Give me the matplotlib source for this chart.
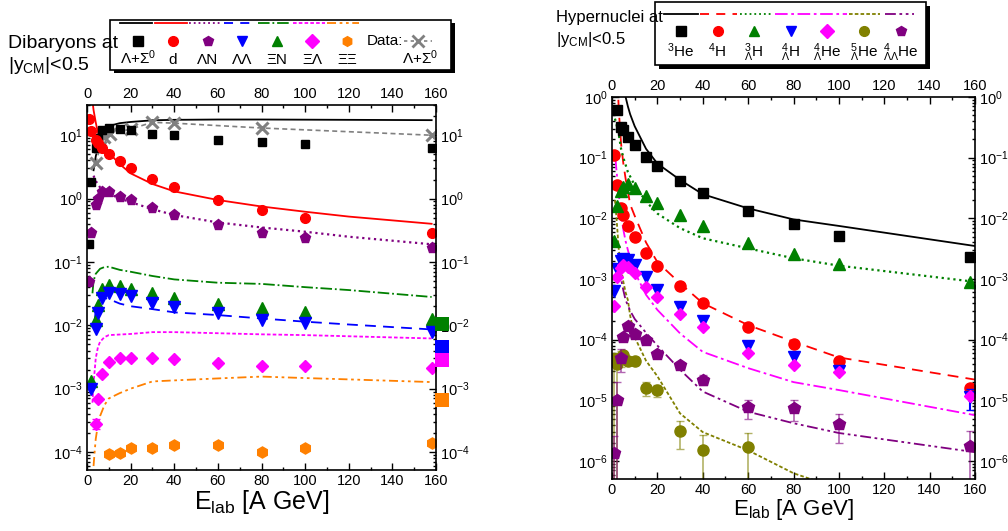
import matplotlib
matplotlib.use('Agg')
import matplotlib.pyplot as plt
import numpy as np
from matplotlib.patches import Rectangle
from matplotlib.lines import Line2D
from matplotlib.ticker import MultipleLocator, LogLocator, NullFormatter

plt.rcParams['font.family'] = ['Liberation Sans', 'DejaVu Sans']
plt.rcParams['mathtext.fontset'] = 'custom'
plt.rcParams['mathtext.rm'] = 'Liberation Sans'
plt.rcParams['mathtext.it'] = 'Liberation Sans:italic'
plt.rcParams['mathtext.bf'] = 'Liberation Sans:bold'
plt.rcParams['axes.unicode_minus'] = False

nan = np.nan

# ---------------- dibaryons (left panel) ----------------
e_dib = [1, 2, 4, 5, 7, 10, 15, 20, 30, 40, 60, 80, 100, 158]
ls_pts = [0.19, 1.8, 6.4, 9.0, 12.0, 13.2, 12.7, 12.0, 10.6, 10.0, 8.5, 7.7, 7.2, 6.4]
d_pts = [18.3, 11.7, 8.3, 7.5, 6.2, 5.0, 3.9, 3.05, 2.07, 1.53, 0.94, 0.66, 0.50, 0.29]
ln_pts = [0.048, 0.29, 0.79, 1.0, 1.25, 1.25, 1.06, 0.94, 0.70, 0.56, 0.38, 0.29, 0.243, 0.163]
xin_pts = [nan, 0.0013, 0.012, 0.021, 0.037, 0.043, 0.041, 0.038, 0.032, 0.027, 0.022, 0.0185, 0.016, 0.0125]
ll_pts = [nan, 0.001, 0.0086, 0.0155, 0.0265, 0.032, 0.031, 0.029, 0.0227, 0.0196, 0.0155, 0.012, 0.0107, 0.0077]
xil_pts = [nan, nan, 2.77e-4, 6.85e-4, 1.7e-3, 2.6e-3, 3.1e-3, 3.1e-3, 3.0e-3, 2.95e-3, 2.5e-3, 2.3e-3, 2.3e-3, 2.1e-3]
xixi_pts = [nan, nan, nan, nan, nan, 9.3e-5, 9.8e-5, 1.14e-4, 1.16e-4, 1.29e-4, 1.31e-4, 1.0e-4, 1.14e-4, 1.4e-4]

# measured Lambda+Sigma0
e_data = [4, 6, 8, 10.7, 20, 30, 40, 80, 158]
ls_data = [3.6, 6.5, 9.5, 10.5, 12.5, 16.0, 15.5, 13.0, 10.0]

# model curves
e_ls_line = [3, 4, 5, 6, 8, 10, 15, 20, 30, 40, 60, 80, 100, 158]
ls_line = [2.8, 4.6, 7.0, 9.0, 12.0, 14.0, 15.5, 16.2, 17.2, 17.5, 17.7, 17.7, 17.6, 17.3]
e_d_line = [2.5, 3, 4, 5, 6, 8, 10, 15, 20, 30, 40, 60, 80, 100, 120, 158]
d_line = [35, 25, 16, 11, 9, 6.5, 5.3, 3.5, 2.5, 1.7, 1.3, 0.95, 0.75, 0.62, 0.52, 0.4]
e_ln_line = [3, 4, 6, 8, 10, 15, 20, 30, 40, 60, 80, 100, 120, 158]
ln_line = [2.3, 1.9, 1.5, 1.3, 1.2, 1.0, 0.88, 0.68, 0.55, 0.42, 0.35, 0.3, 0.25, 0.19]
e_xin_line = [2.5, 3, 4, 6, 8, 10, 15, 20, 30, 40, 60, 80, 100, 120, 158]
xin_line = [0.032, 0.05, 0.065, 0.078, 0.083, 0.084, 0.075, 0.07, 0.06, 0.053, 0.047, 0.045, 0.04, 0.036, 0.028]
e_ll_line = [3.5, 4, 5, 6, 8, 10, 15, 20, 30, 40, 60, 80, 100, 120, 158]
ll_line = [0.012, 0.017, 0.022, 0.025, 0.027, 0.026, 0.022, 0.02, 0.018, 0.016, 0.0145, 0.0128, 0.0114, 0.0103, 0.0086]
e_xil_line = [2.5, 3, 4, 5, 6, 8, 10, 20, 30, 40, 60, 80, 100, 158]
xil_line = [6e-4, 1.2e-3, 3e-3, 4.5e-3, 5.5e-3, 6.5e-3, 7e-3, 7.3e-3, 7.8e-3, 7.8e-3, 7.5e-3, 7.2e-3, 7e-3, 6.2e-3]
e_xixi_line = [3, 3.5, 4, 5, 6, 8, 10, 15, 20, 30, 40, 60, 80, 100, 120, 158]
xixi_line = [6e-5, 1e-4, 1.6e-4, 2.7e-4, 3.7e-4, 5.5e-4, 7e-4, 8.5e-4, 1.0e-3, 1.3e-3, 1.35e-3, 1.45e-3, 1.55e-3, 1.47e-3, 1.4e-3, 1.27e-3]

# values shown as big squares right of the frame
thermal_e = 162.7
thermal_vals = [0.0104, 4.6e-3, 2.8e-3, 6.6e-4]
thermal_cols = ['green', 'blue', 'magenta', '#ff8000']

# ---------------- hypernuclei (right panel) ----------------
e_hyp = [1, 2, 4, 5, 7, 10, 15, 20, 30, 40, 60, 80, 100, 158]
he3_pts = [nan, 0.61, 0.32, 0.29, 0.216, 0.16, 0.104, 0.073, 0.042, 0.026, 0.013, 0.008, 0.0051, 0.0023]
h4_pts = [0.11, 0.035, 0.0146, 0.0114, 0.0076, 0.005, 0.0027, 0.00166, 7.7e-4, 4.1e-4, 1.64e-4, 8.5e-5, 4.5e-5, 1.58e-5]
h3l_pts = [0.0043, 0.016, 0.028, 0.033, 0.037, 0.032, 0.023, 0.018, 0.0114, 0.0076, 0.0039, 0.0026, 0.0018, 8.8e-4]
h4l_pts = [6.4e-4, 1.44e-3, 2.0e-3, 2.1e-3, 2.05e-3, 1.7e-3, 1.07e-3, 6.7e-4, 3.4e-4, 2.05e-4, 7.9e-5, 5.1e-5, 3.1e-5, 1.15e-5]
he4l_pts = [3.6e-4, 1.1e-3, 1.5e-3, 1.7e-3, 1.6e-3, 1.26e-3, 7.4e-4, 5.1e-4, 2.7e-4, 1.63e-4, 6.1e-5, 3.8e-5, 2.95e-5, 1.2e-5]
he5l_pts = [4.8e-5, 4.0e-5, 5.0e-5, 5.6e-5, 4.4e-5, 4.5e-5, 1.6e-5, 1.48e-5, 3.1e-6, 1.55e-6, 1.7e-6, nan, nan, nan]
he5l_lo = [1e-9, 1e-9, 3.5e-5, 4.6e-5, 3.8e-5, 3.9e-5, 1.2e-5, 1.15e-5, 1.6e-6, 1e-9, 1e-9, nan, nan, nan]
he5l_hi = [6e-5, 6e-5, 6.5e-5, 6.6e-5, 5.0e-5, 5.1e-5, 2.0e-5, 1.8e-5, 4.6e-6, 2.7e-6, 2.9e-6, nan, nan, nan]
he4ll_pts = [1.38e-6, 1e-5, 4.9e-5, 1.1e-4, 1.7e-4, 1.26e-4, 1.0e-4, 5.8e-5, 3.9e-5, 2.2e-5, 7.7e-6, 7.4e-6, 4.1e-6, 1.8e-6]
he4ll_lo = [1e-9, 1e-9, 2.9e-5, 1.0e-4, 1.6e-4, 1.18e-4, 9.2e-5, 5.3e-5, 3.5e-5, 1.8e-5, 5e-6, 4.5e-6, 2e-6, 1e-9]
he4ll_hi = [2.6e-6, 2e-5, 7e-5, 1.2e-4, 1.8e-4, 1.34e-4, 1.08e-4, 6.3e-5, 4.3e-5, 2.6e-5, 1e-5, 1e-5, 6e-6, 3.1e-6]

e_he3_line = [6, 7, 8, 10, 15, 20, 30, 40, 60, 80, 100, 160]
he3_line = [1.0, 0.7, 0.52, 0.33, 0.14, 0.08, 0.043, 0.025, 0.0146, 0.0096, 0.0075, 0.0035]
e_h4_line = [2.8, 3, 4, 5, 6, 7, 8, 10, 15, 20, 30, 40, 60, 80, 100, 160]
h4_line = [0.9, 0.6, 0.17, 0.08, 0.045, 0.028, 0.017, 0.011, 0.004, 0.0019, 8.5e-4, 4e-4, 1.74e-4, 9.3e-5, 5.1e-5, 2.2e-5]
e_h3l_line = [1.3, 2, 3, 4, 5, 7, 10, 15, 20, 30, 40, 60, 80, 100, 160]
h3l_line = [0.44, 0.35, 0.24, 0.14, 0.1, 0.058, 0.035, 0.019, 0.012, 0.0069, 0.0047, 0.0032, 0.0022, 0.00166, 9e-4]
e_he4l_line = [1.5, 2, 3, 4, 5, 6, 7, 8, 10, 15, 20, 30, 40, 60, 80, 100, 160]
he4l_line = [0.1, 0.06, 0.025, 0.011, 0.0065, 0.0042, 0.003, 0.0022, 0.0013, 5.5e-4, 3.1e-4, 1.27e-4, 6.3e-5, 3.4e-5, 2e-5, 1.48e-5, 5.7e-6]
e_he5l_line = [1.3, 2, 3, 4, 5, 6, 7, 8, 10, 15, 20, 30, 40, 60, 80, 100]
he5l_line = [0.02, 0.01, 0.003, 0.0015, 9e-4, 6e-4, 4.5e-4, 2.5e-4, 1.1e-4, 4.5e-5, 2.5e-5, 6.1e-6, 3.0e-6, 1.5e-6, 6.3e-7, 3.5e-7]
e_he4ll_line = [3, 4, 5, 6, 8, 10, 15, 20, 30, 40, 60, 80, 100, 160]
he4ll_line = [2e-3, 1e-3, 6.5e-4, 4.5e-4, 3e-4, 2.2e-4, 1.3e-4, 8e-5, 3.2e-5, 1.4e-5, 6.5e-6, 4.2e-6, 2.9e-6, 1.4e-6]

W, H = 1008, 531
fig = plt.figure(figsize=(W / 100, H / 100), dpi=100)
ax1 = fig.add_axes([87 / W, 1 - 470 / H, 349 / W, 365 / H])
ax2 = fig.add_axes([612 / W, 1 - 479 / H, 363 / W, 382 / H])

ms = 7
lw = 1.3
ORANGE = '#ff8000'

# left panel
ax1.plot(e_ls_line, ls_line, '-', color='black', lw=lw)
ax1.plot(e_d_line, d_line, '-', color='red', lw=lw)
ax1.plot(e_ln_line, ln_line, ':', color='purple', lw=1.6)
ax1.plot(e_ll_line, ll_line, '--', color='blue', lw=lw, dashes=(6, 4))
ax1.plot(e_xin_line, xin_line, '-.', color='green', lw=lw)
ax1.plot(e_xil_line, xil_line, ':', color='magenta', lw=lw, dashes=(2, 1.2))
ax1.plot(e_xixi_line, xixi_line, color=ORANGE, lw=lw, dashes=(5, 2, 1.5, 2, 1.5, 2))
ax1.plot(e_data, ls_data, '--', color='gray', lw=1.2, marker='x', ms=9, mew=2.2, dashes=(3, 2))

ax1.plot(e_dib, ls_pts, 's', color='black', ms=ms - 1)
ax1.plot(e_dib, d_pts, 'o', color='red', ms=ms)
ax1.plot(e_dib, ln_pts, 'p', color='purple', ms=ms + 1)
ax1.plot(e_dib, xin_pts, '^', color='green', ms=ms + 1)
ax1.plot(e_dib, ll_pts, 'v', color='blue', ms=ms + 1)
ax1.plot(e_dib, xil_pts, 'D', color='magenta', ms=ms - 1)
ax1.errorbar([4], [2.77e-4], yerr=[[0.5e-4], [0.5e-4]], fmt='none', ecolor='magenta', capsize=3)
ax1.plot(e_dib, xixi_pts, 'h', color=ORANGE, ms=ms + 1)
ax1.scatter([thermal_e] * len(thermal_vals), thermal_vals, marker='s', s=105,
            c=thermal_cols, clip_on=False, zorder=5, linewidths=0)

ax1.set_yscale('log')
ax1.set_xlim(0, 160)
ax1.set_ylim(5.2e-5, 30)

# right panel
ax2.plot(e_he3_line, he3_line, '-', color='black', lw=lw)
ax2.plot(e_h4_line, h4_line, '--', color='red', lw=lw, dashes=(6, 4))
ax2.plot(e_h3l_line, h3l_line, ':', color='green', lw=1.6)
ax2.plot(e_he4l_line, he4l_line, '-.', color='magenta', lw=lw, dashes=(7, 2, 1.5, 2))
ax2.plot(e_he5l_line, he5l_line, ':', color='#808000', lw=lw, dashes=(2, 1.2))
ax2.plot(e_he4ll_line, he4ll_line, color='purple', lw=lw, dashes=(6, 2, 1.5, 2, 1.5, 2))

ax2.plot(e_hyp, he3_pts, 's', color='black', ms=ms)
ax2.plot(e_hyp, h4_pts, 'o', color='red', ms=ms + 1)
ax2.plot(e_hyp, h3l_pts, '^', color='green', ms=ms + 1)
ax2.plot(e_hyp, h4l_pts, 'v', color='blue', ms=ms + 1)
ax2.errorbar([158], [1.15e-5], yerr=[[0.45e-5], [0.4e-5]], fmt='none', ecolor='blue', capsize=3)
ax2.plot(e_hyp, he4l_pts, 'D', color='magenta', ms=ms - 1)

y5 = np.array(he5l_pts)
ax2.errorbar(e_hyp, y5, yerr=[y5 - np.array(he5l_lo), np.array(he5l_hi) - y5],
             fmt='none', ecolor='#808000', alpha=0.6, capsize=3, lw=1.2)
ax2.plot(e_hyp, he5l_pts, 'o', color='#808000', ms=ms + 1)
y4 = np.array(he4ll_pts)
ax2.errorbar(e_hyp, y4, yerr=[y4 - np.array(he4ll_lo), np.array(he4ll_hi) - y4],
             fmt='none', ecolor='purple', alpha=0.6, capsize=3, lw=1.2)
ax2.plot(e_hyp, he4ll_pts, 'p', color='purple', ms=ms + 2)

ax2.set_yscale('log')
ax2.set_xlim(0, 160)
ax2.set_ylim(5.06e-7, 1)

for ax in (ax1, ax2):
    ax.xaxis.set_major_locator(MultipleLocator(20))
    ax.xaxis.set_minor_locator(MultipleLocator(10))
    ax.yaxis.set_major_locator(LogLocator(base=10, numticks=20))
    ax.yaxis.set_minor_locator(LogLocator(base=10, subs=np.arange(2, 10), numticks=20))
    ax.yaxis.set_minor_formatter(NullFormatter())
    ax.tick_params(which='both', direction='in', top=True, right=True,
                   labeltop=True, labelright=True, labelsize=10.5, width=1.0, pad=3)
    ax.tick_params(which='major', length=5)
    ax.tick_params(which='minor', length=2.5)
    for sp in ax.spines.values():
        sp.set_linewidth(1.2)
ax1.set_xlabel(r'E$_{\mathrm{lab}}$ [A GeV]', fontsize=18, labelpad=0)
ax2.set_xlabel(r'E$_{\mathrm{lab}}$ [A GeV]', fontsize=16, labelpad=0)

# overlay for the two legend boxes, pixel coordinates
lax = fig.add_axes([0, 0, 1, 1], facecolor='none', zorder=10)
lax.set_xlim(0, W)
lax.set_ylim(H, 0)
lax.axis('off')

# dibaryon legend
lax.add_patch(Rectangle((114, 23), 341, 50, facecolor='black', lw=0))
lax.add_patch(Rectangle((110, 20), 341, 50, facecolor='white', edgecolor='black', lw=1.2))
dib_styles = [('black', '-', None), ('red', '-', None), ('purple', ':', None),
              ('blue', '--', (5, 4)), ('green', '-.', None), ('magenta', ':', (2, 1.2)),
              (ORANGE, '-', (5, 2, 1.5, 2, 1.5, 2))]
dib_marks = ['s', 'o', 'p', 'v', '^', 'D', 'h']
dib_labels = ['Λ+Σ$^0$', 'd', 'ΛN', 'ΛΛ', 'ΞN', 'ΞΛ', 'ΞΞ']
for i, (c, st, da) in enumerate(dib_styles):
    x0 = 120 + i * 34.5
    ln = Line2D([x0, x0 + 32], [23, 23], color=c, ls=st, lw=1.3)
    if da is not None:
        ln.set_dashes(da)
    lax.add_line(ln)
    xc = 138 + i * 34.8
    lax.plot([xc], [41], dib_marks[i], color=c, ms=7)
    lax.text(xc, 64, dib_labels[i], ha='center', va='baseline', fontsize=11)
lax.text(367, 45, 'Data:', fontsize=11, va='baseline')
lax.plot([404, 432], [41, 41], '--', color='gray', lw=1.2, dashes=(2, 2))
lax.plot([418], [41], 'x', color='gray', ms=8, mew=2)
lax.text(420, 64, 'Λ+Σ$^0$', ha='center', va='baseline', fontsize=11)
lax.text(8, 48, 'Dibaryons at', fontsize=14, va='baseline')
lax.text(8, 70, '|y$_{\\mathrm{CM}}$|<0.5', fontsize=14, va='baseline')

# hypernuclei legend
lax.add_patch(Rectangle((659, 6), 271, 63, facecolor='black', lw=0))
lax.add_patch(Rectangle((655, 2), 271, 63, facecolor='white', edgecolor='black', lw=1.2))
hyp_styles = [('black', '-', None, 664, 698), ('red', '--', (5, 4), 700, 737),
              ('green', ':', None, 740, 772), ('magenta', '-.', (7, 2, 1.5, 2), 775, 847),
              ('#808000', ':', (2, 1.2), 849, 880), ('purple', '-', (6, 2, 1.5, 2, 1.5, 2), 885, 914)]
for c, st, da, xa, xb in hyp_styles:
    ln = Line2D([xa, xb], [13.5, 13.5], color=c, ls=st, lw=1.3)
    if da is not None:
        ln.set_dashes(da)
    lax.add_line(ln)
hyp_cols = ['black', 'red', 'green', 'blue', 'magenta', '#808000', 'purple']
hyp_marks = ['s', 'o', '^', 'v', 'D', 'o', 'p']
hyp_labels = ['$^{3}$He', '$^{4}$H', '$^{3}_{Λ}$H', '$^{4}_{Λ}$H', '$^{4}_{Λ}$He',
              '$^{5}_{Λ}$He', '$^{4}_{ΛΛ}$He']
for i in range(7):
    xc = 681 + i * 36.6
    lax.plot([xc], [31], hyp_marks[i], color=hyp_cols[i], ms=7)
    lax.text(xc, 57, hyp_labels[i], ha='center', va='baseline', fontsize=11)
lax.text(556, 22, 'Hypernuclei at', fontsize=12, va='baseline')
lax.text(556, 44, '|y$_{\\mathrm{CM}}$|<0.5', fontsize=12, va='baseline')

fig.savefig('out.png', dpi=100)
